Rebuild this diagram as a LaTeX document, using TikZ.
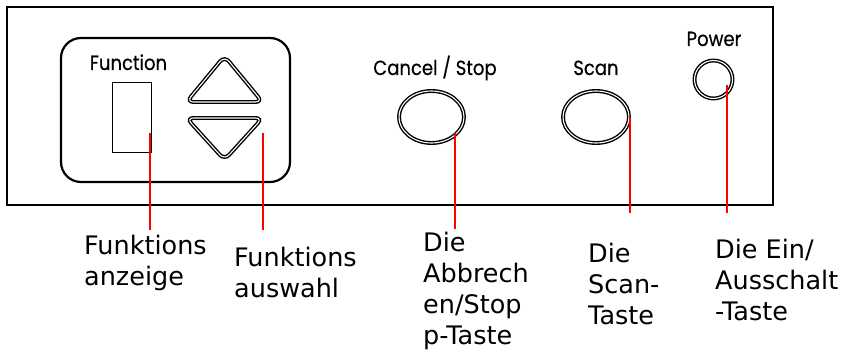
\documentclass[tikz,border=0pt]{standalone}
\usepackage{fontspec}
\setmainfont{DejaVu Sans}
\newfontfamily\panelfont{Poppins}[FakeStretch=0.88,FakeBold=0.5]
\usetikzlibrary{shapes.geometric,positioning,calc}

\begin{document}
\begin{tikzpicture}[x=1pt,y=-1pt,every node/.style={inner sep=0pt},
    keyring/.style={draw,double,line width=1.4pt,double distance=1.1pt},
    paneltext/.style={font=\panelfont\fontsize{20.5}{22}\selectfont,anchor=base},
    callout/.style={draw=red,line width=1.4pt},
    tag/.style={font=\fontsize{25.5}{31}\selectfont,align=left,anchor=north west}]
    \useasboundingbox (0,0) rectangle (852,353);
    % housing and function panel
    \draw[line width=1.8pt] (7,7) rectangle (773,205);
    \draw[line width=2.2pt,rounded corners=20pt] (61,38) rectangle (290,182);
    \node[draw,line width=1.3pt,minimum width=38.8pt,minimum height=70pt] (disp) at (132,117.5) {};
    \node[paneltext] (fn) at (128.5,70) {Function};
    \draw[keyring,rounded corners=7pt] (224.5,56) -- (262.5,102) -- (186.5,102) -- cycle;
    \draw[keyring,rounded corners=7pt] (186.5,118) -- (262.5,118) -- (224.5,160) -- cycle;
    % keys
    \node[keyring,ellipse,minimum width=65pt,minimum height=52pt] (cancel) at (431.5,117) {};
    \node[keyring,ellipse,minimum width=66pt,minimum height=52pt] (scan) at (596,117) {};
    \node[keyring,circle,minimum size=38pt] (power) at (713.5,79.5) {};
    \node[paneltext] (cancel-t) at (435,75) {Cancel / Stop};
    \node[paneltext] (scan-t) at (596,75) {Scan};
    \node[paneltext] (power-t) at (714,46) {Power};
    % labels
    \node[tag] (anz) at (84,234.6) {Funktions\\anzeige};
    \node[tag] (ausw) at (234,246.6) {Funktions\\auswahl};
    \node[tag] (abbr) at (423,231.6) {Die\\Abbrech\\en/Stop\\p-Taste};
    \node[tag] (scan-l) at (588,242.6) {Die\\Scan-\\Taste};
    \node[tag] (power-l) at (715,238.6) {Die Ein/\\Ausschalt\\-Taste};
    % callout lines
    \coordinate (disp-tip) at (150,133);
    \coordinate (arrow-tip) at (263,133);
    \coordinate (cancel-tip) at (455,133);
    \coordinate (scan-tip) at (630,117);
    \coordinate (power-tip) at (727,85);
    \coordinate (anz-end) at (150,230);
    \coordinate (ausw-end) at (263,230);
    \coordinate (abbr-end) at (455,229);
    \coordinate (scan-end) at (630,213);
    \coordinate (power-end) at (727,213);
    \draw[callout] (disp-tip) -- (anz-end);
    \draw[callout] (arrow-tip) -- (ausw-end);
    \draw[callout] (cancel-tip) -- (abbr-end);
    \draw[callout] (scan-tip) -- (scan-end);
    \draw[callout] (power-tip) -- (power-end);
\end{tikzpicture}
\end{document}
